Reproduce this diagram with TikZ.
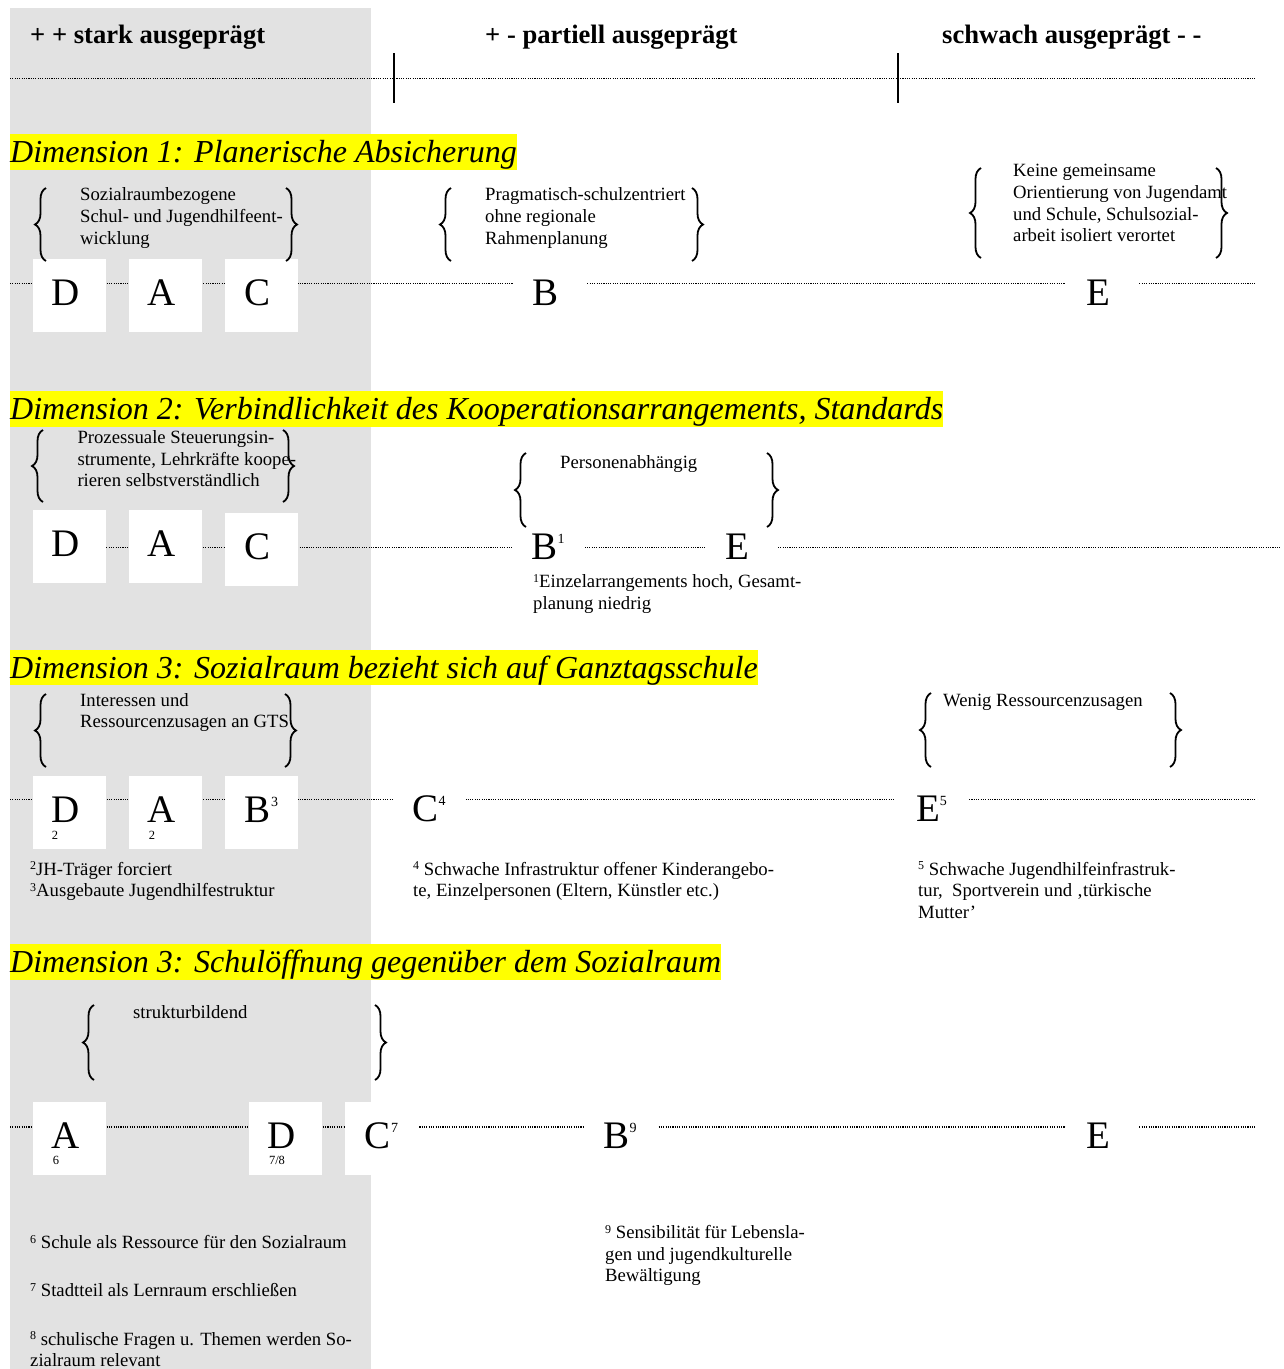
\documentclass[tikz,border=0pt]{standalone}
\usepackage{fontspec}
\setmainfont{Liberation Serif}
\usetikzlibrary{decorations.pathreplacing}

% type sizes
\newcommand\txtsize{\fontsize{18.7}{21.6}\selectfont}
\newcommand\hdsize{\fontsize{26.6}{30}\selectfont\bfseries}
\newcommand\dimsize{\fontsize{32}{36}\selectfont\itshape}
\newcommand\letsize{\fontsize{39}{44}\selectfont}
% raised footnote numbers in running text and beside the big letters
\newcommand\fnsup[1]{\raisebox{5.5pt}{\fontsize{12}{12}\selectfont #1}}
\newcommand\lsup[1]{\raisebox{16pt}{\fontsize{14}{14}\selectfont #1}}

\definecolor{colgray}{RGB}{226,226,226}
\definecolor{hilite}{RGB}{255,255,0}

\begin{document}
\begin{tikzpicture}[x=1pt,y=-1pt,
  dotline/.style={line width=1.3pt, black, dash pattern=on 1.1pt off 1.2pt},
  tick/.style={line width=2.3pt},
  heading/.style={font=\hdsize, anchor=base west, inner sep=0pt},
  dimtitle/.style={font=\dimsize, fill=hilite, anchor=base west, inner sep=0pt,
                   text height=28.5pt, text depth=7pt},
  slot/.style={fill=white, minimum width=73pt, minimum height=73pt, inner sep=0pt,
               font=\letsize, text height=27pt, text depth=7pt},
  brtext/.style={font=\txtsize, align=left, anchor=north west, inner sep=0pt},
  tinynum/.style={font=\fontsize{12.5}{13}\selectfont, inner sep=0pt},
  brc/.style={decorate, decoration={brace, amplitude=11pt}, line width=1.8pt},
]
\useasboundingbox (0,0) rectangle (1284,1369);
\fill[white] (0,0) rectangle (1284,1369);

% shaded column of the strong end of the scale
\fill[colgray] (10,8) rectangle (371,1369);

% scale header
\node[heading] (hs) at (30,43) {+ + stark ausgeprägt};
\node[heading] (hp) at (485,43) {+ - partiell ausgeprägt};
\node[heading] (hw) at (942,43) {schwach ausgeprägt - -};
\coordinate (s0) at (10,78.3);
\coordinate (s1) at (1256,78.3);
\draw[dotline] (s0) -- (s1);
\coordinate (t1a) at (394.3,53); \coordinate (t1b) at (394.3,103);
\coordinate (t2a) at (898,53);   \coordinate (t2b) at (898,103);
\draw[tick] (t1a) -- (t1b);
\draw[tick] (t2a) -- (t2b);

% ---------- Dimension 1 ----------
\node[dimtitle] (dim1) at (10,162.5) {Dimension 1: Planerische Absicherung};

\node[brtext] (g11) at (80,185.6) {\strut Sozialraumbezogene\\Schul- und Jugendhilfeent-\\wicklung};
\node[brtext] (g12) at (485,185.6) {\strut Pragmatisch-schulzentriert\\ohne regionale\\Rahmenplanung};
\node[brtext] (g13) at (1013,161.6) {\strut Keine gemeinsame\\Orientierung von Jugendamt\\und Schule, Schulsozial-\\arbeit isoliert verortet};

\coordinate (r1s) at (10,283.3);
\coordinate (r1e) at (1256,283.3);
\draw[dotline] (r1s) -- (r1e);
\node[slot] (d1) at (69.5,295.5) {D\kern7pt};
\node[slot] (a1) at (165.5,295.5) {A\kern7pt};
\node[slot] (c1) at (261.5,295.5) {C\kern7pt};
\node[slot] (b1) at (549,295.5) {B\kern7pt};
\node[slot] (e1) at (1101.5,295.5) {E\kern7pt};

\draw[brc] (46,261) -- (46,188);
\draw[brc] (286,188) -- (286,261);
\draw[brc] (451,261) -- (451,188);
\draw[brc] (692,188) -- (692,261);
\draw[brc] (981,258) -- (981,168);
\draw[brc] (1216,168) -- (1216,258);

% ---------- Dimension 2 ----------
\node[dimtitle] (dim2) at (10,419.8) {Dimension 2: Verbindlichkeit des Kooperationsarrangements, Standards};

\node[brtext] (g21) at (77.3,428.2) {\strut Prozessuale Steuerungsin-\\strumente, Lehrkräfte koope-\\rieren selbstverständlich};
\node[brtext] (g22) at (560,453.2) {\strut Personenabhängig};

\coordinate (r2s) at (69.5,547.7);
\coordinate (r2e) at (1280,547.7);
\draw[dotline] (r2s) -- (r2e);
\node[slot] (d2) at (69.5,546.5) {D\kern7pt};
\node[slot] (a2) at (165.5,546.5) {A\kern7pt};
\node[slot] (c2) at (261.5,549) {C\kern7pt};
\node[slot] (b2) at (548,549) {B\lsup{1}};
\node[slot] (e2) at (741,549) {E\kern7pt};

\draw[brc] (43,502) -- (43,430);
\draw[brc] (283,430) -- (283,502);
\draw[brc] (526,527) -- (526,453);
\draw[brc] (767,453) -- (767,527);

\node[brtext] (f1) at (533,572.2) {\strut\fnsup{1}Einzelarrangements hoch, Gesamt-\\planung niedrig};

% ---------- Dimension 3 ----------
\node[dimtitle] (dim3) at (10,678) {Dimension 3: Sozialraum bezieht sich auf Ganztagsschule};

\node[brtext] (g31) at (80,690.9) {\strut Interessen und\\Ressourcenzusagen an GTS};
\node[brtext] (g32) at (943,690.9) {\strut Wenig Ressourcenzusagen};

\coordinate (r3s) at (10,799.5);
\coordinate (r3e) at (1256,799.5);
\draw[dotline] (r3s) -- (r3e);
\node[slot] (d3) at (69.5,812.5) {D\kern7pt};
\node[slot] (a3) at (165.5,812.5) {A\kern7pt};
\node[slot] (b3) at (261.5,812.5) {B\lsup{3}};
\node[slot] (c3) at (429,811.5) {C\lsup{4}};
\node[slot] (e3) at (931.5,811.5) {E\lsup{5}};
\node[tinynum] (n3d) at (55,835) {2};
\node[tinynum] (n3a) at (152,835) {2};

\draw[brc] (46,767) -- (46,694);
\draw[brc] (285,694) -- (285,767);
\draw[brc] (931,767) -- (931,693);
\draw[brc] (1170,693) -- (1170,767);

\node[brtext] (f23) at (30,859.9) {\strut\fnsup{2}JH-Träger forciert\\\fnsup{3}Ausgebaute Jugendhilfestruktur};
\node[brtext] (f4) at (413,859.9) {\strut\fnsup{4} Schwache Infrastruktur offener Kinderangebo-\\te, Einzelpersonen (Eltern, Künstler etc.)};
\node[brtext] (f5) at (918,859.9) {\strut\fnsup{5} Schwache Jugendhilfeinfrastruk-\\tur,\ \ Sportverein und ‚türkische\\Mutter’};

% ---------- Dimension 4 ----------
\node[dimtitle] (dim4) at (10,972.6) {Dimension 3: Schulöffnung gegenüber dem Sozialraum};

\node[brtext] (g41) at (133,1003.2) {\strut strukturbildend};

\coordinate (r4s) at (10,1127);
\coordinate (r4e) at (1256,1127);
\draw[dotline] (r4s) -- (r4e);
\node[slot] (a4) at (69.5,1138.5) {A\kern7pt};
\node[slot] (d4) at (285.5,1138.5) {D\kern7pt};
\node[slot] (c4) at (381.5,1138.5) {C\lsup{7}};
\node[slot] (b4) at (620,1138.5) {B\lsup{9}};
\node[slot] (e4) at (1102,1138.5) {E\kern7pt};
\node[tinynum] (n4a) at (56,1160) {6};
\node[tinynum] (n4d) at (277,1160) {7/8};

\draw[brc] (94,1080) -- (94,1005);
\draw[brc] (375,1005) -- (375,1080);

\node[brtext] (f678) at (30,1233.2) {\strut\fnsup{6} Schule als Ressource für den Sozialraum\\[26.8pt]\fnsup{7} Stadtteil als Lernraum erschließen\\[26.8pt]\fnsup{8} schulische Fragen u. Themen werden So-\\zialraum relevant};
\node[brtext] (f9) at (605,1223.2) {\strut\fnsup{9} Sensibilität für Lebensla-\\gen und jugendkulturelle\\Bewältigung};
\end{tikzpicture}
\end{document}
